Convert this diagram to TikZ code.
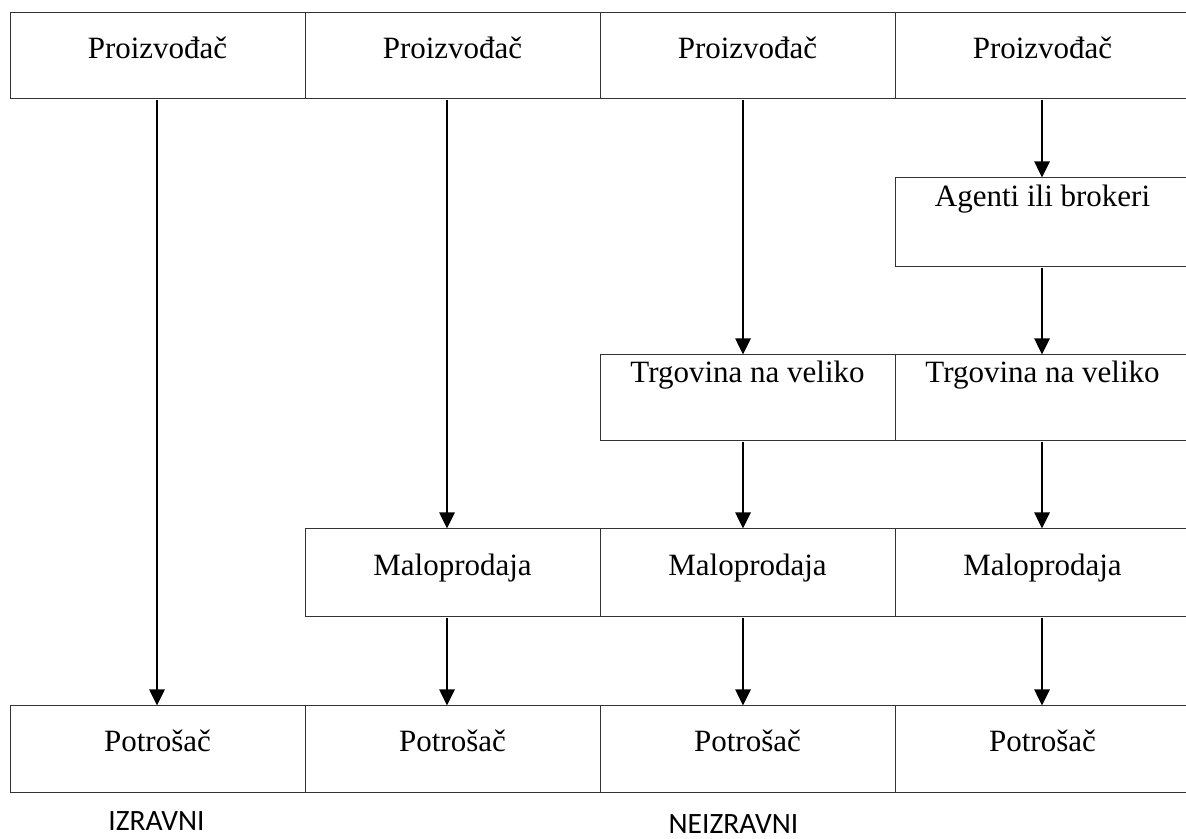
\documentclass[tikz,border=0pt]{standalone}
\usepackage{fontspec}
\setmainfont{Liberation Serif}
\newfontfamily\calfont{Carlito}
\usetikzlibrary{arrows.meta}
\tikzset{
  box/.style={draw=black!80, line width=1pt, rectangle, inner sep=0pt, minimum width=295pt},
  lbl/.style={inner sep=0pt, font=\fontsize{31}{36}\selectfont, anchor=base},
  grp/.style={inner sep=0pt, font=\calfont\fontsize{29.5}{34}\selectfont, anchor=base},
  arr/.style={draw=black, line width=2.6pt, -{Triangle[length=16pt,width=15pt]}, shorten <=1pt}
}
\begin{document}
\begin{tikzpicture}[x=1pt,y=1pt]
\useasboundingbox (0,0) rectangle (1186,838);
\clip (0,0) rectangle (1186,838);
% top row
\node[box, minimum height=86pt] (p1) at (157.5,782) {};
\node[box, minimum height=86pt] (p2) at (452.5,782) {};
\node[box, minimum height=86pt] (p3) at (747.5,782) {};
\node[box, minimum height=86pt] (p4) at (1042.5,782) {};
% agents
\node[box, minimum height=89pt] (ag) at (1042.5,615.5) {};
% wholesale
\node[box, minimum height=86pt] (w3) at (747.5,440) {};
\node[box, minimum height=86pt] (w4) at (1042.5,440) {};
% retail
\node[box, minimum height=88pt] (m2) at (452.5,265) {};
\node[box, minimum height=88pt] (m3) at (747.5,265) {};
\node[box, minimum height=88pt] (m4) at (1042.5,265) {};
% consumers
\node[box, minimum height=87pt] (c1) at (157.5,88.5) {};
\node[box, minimum height=87pt] (c2) at (452.5,88.5) {};
\node[box, minimum height=87pt] (c3) at (747.5,88.5) {};
\node[box, minimum height=87pt] (c4) at (1042.5,88.5) {};
% texts
\node[lbl] (tp1) at (157.5,779) {Proizvođač};
\node[lbl] (tp2) at (452.5,779) {Proizvođač};
\node[lbl] (tp3) at (747.5,779) {Proizvođač};
\node[lbl] (tp4) at (1042.5,779) {Proizvođač};
\node[lbl] (tag) at (1042.5,631) {Agenti ili brokeri};
\node[lbl] (tw3) at (747.5,455) {Trgovina na veliko};
\node[lbl] (tw4) at (1042.5,455) {Trgovina na veliko};
\node[lbl] (tm2) at (452.5,262) {Maloprodaja};
\node[lbl] (tm3) at (747.5,262) {Maloprodaja};
\node[lbl] (tm4) at (1042.5,262) {Maloprodaja};
\node[lbl] (tc1) at (157.5,86) {Potrošač};
\node[lbl] (tc2) at (452.5,86) {Potrošač};
\node[lbl] (tc3) at (747.5,86) {Potrošač};
\node[lbl] (tc4) at (1042.5,86) {Potrošač};
\node[grp] (izr) at (156.5,7) {IZRAVNI};
\node[grp] (neizr) at (733.5,5) {NEIZRAVNI};
% arrows
\draw[arr] ([xshift=-0.5pt]p1.south) -- ([xshift=-0.5pt]c1.north);
\draw[arr] ([xshift=-5.5pt]p2.south) -- ([xshift=-5.5pt]m2.north);
\draw[arr] ([xshift=-5.5pt]m2.south) -- ([xshift=-5.5pt]c2.north);
\draw[arr] ([xshift=-4.5pt]p3.south) -- ([xshift=-4.5pt]w3.north);
\draw[arr] ([xshift=-4.5pt]w3.south) -- ([xshift=-4.5pt]m3.north);
\draw[arr] ([xshift=-4.5pt]m3.south) -- ([xshift=-4.5pt]c3.north);
\draw[arr] ([xshift=-0.5pt]p4.south) -- ([xshift=-0.5pt]ag.north);
\draw[arr] ([xshift=-0.5pt]ag.south) -- ([xshift=-0.5pt]w4.north);
\draw[arr] ([xshift=-0.5pt]w4.south) -- ([xshift=-0.5pt]m4.north);
\draw[arr] ([xshift=-0.5pt]m4.south) -- ([xshift=-0.5pt]c4.north);
\end{tikzpicture}
\end{document}
